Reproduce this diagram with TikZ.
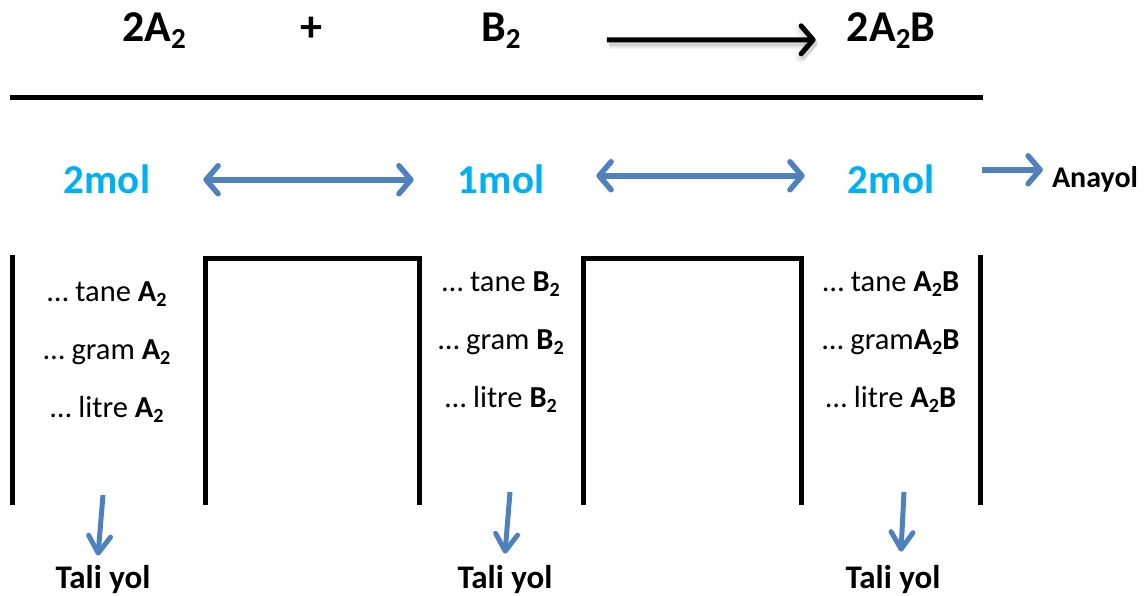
\documentclass[tikz,border=0pt]{standalone}
\usepackage{fontspec}
\usepackage{graphicx}
\setmainfont{Carlito}
\usetikzlibrary{arrows.meta}
\definecolor{molblue}{HTML}{00B0F0}
\definecolor{arrblue}{HTML}{4F81BD}
\newcommand\sbs[1]{\raisebox{-0.17em}{\scalebox{0.66}{#1}}}
\tikzset{
  formula/.style={anchor=base,inner sep=0pt,font=\fontsize{44}{48}\selectfont\bfseries},
  mol/.style={anchor=base,inner sep=0pt,text=molblue,font=\fontsize{41}{46}\selectfont\bfseries},
  item/.style={anchor=base,inner sep=0pt,font=\fontsize{30.5}{34}\selectfont},
  lbl/.style={anchor=base,inner sep=0pt,font=\fontsize{33}{36}\selectfont\bfseries},
  wall/.style={line width=5pt,black},
  dblarrow/.style={line width=5.5pt,arrblue,{Straight Barb[length=12pt,width=28pt,round]}-{Straight Barb[length=12pt,width=28pt,round]}},
  onearrow/.style={line width=5.5pt,arrblue,-{Straight Barb[length=12pt,width=28pt,round]}},
  downarrow/.style={line width=5pt,arrblue,-{Straight Barb[length=17pt,width=22pt,round]}},
  rxnarrow/.style={line width=5pt,black,-{Straight Barb[length=12pt,width=28pt,round]}},
}
\begin{document}
\begin{tikzpicture}[x=1pt,y=-1pt]
\useasboundingbox (0,0) rectangle (1148,595);
% top reaction row
\node[formula] (r1) at (154,41) {2A\sbs{2}};
\node[formula] (plus) at (311,41) {+};
\node[formula] (r2) at (501,41) {B\sbs{2}};
\node[formula] (p1) at (891,41) {2A\sbs{2}B};
\foreach \o/\w in {0.05/11pt,0.06/8pt,0.08/5pt}{
\draw[rxnarrow,black,line width=\w,opacity=\o,-{Straight Barb[length=12pt,width=28pt,round]}]
  ([xshift=88pt,yshift=-13pt]r2.east) -- ([xshift=-29pt,yshift=-13pt]p1.west);
}
\draw[rxnarrow] ([xshift=86pt,yshift=-9.5pt]r2.east) -- ([xshift=-31pt,yshift=-9.5pt]p1.west);
% rule
\coordinate (hl) at (10,97);
\coordinate (hr) at (983,97);
\draw[line width=5pt] (hl) -- (hr);
% mol row
\node[mol] (m1) at (107,193) {2mol};
\node[mol] (m2) at (501,193) {1mol};
\node[mol] (m3) at (891,193) {2mol};
\node[lbl,font=\fontsize{30}{33}\selectfont\bfseries] (an) at (1095,187) {Anayol};
\draw[dblarrow] ([xshift=53pt,yshift=-1pt]m1.east) -- ([xshift=-44pt,yshift=-1pt]m2.west);
\draw[dblarrow] ([xshift=52pt,yshift=3pt]m2.east) -- ([xshift=-43pt,yshift=3pt]m3.west);
\coordinate (as) at ([xshift=48pt,yshift=9pt]m3.east);
\draw[onearrow] (as) -- ([xshift=-9pt]an.west |- as);
% walls
\draw[wall] (12,505) -- (12,255);
\draw[wall] (205,505) -- (205,258) -- (419,258) -- (419,505);
\draw[wall] (583,505) -- (583,258) -- (801,258) -- (801,505);
\draw[wall] (980,505) -- (980,255);
% column texts
\node[item] (a1) at (107,301) {… tane \textbf{A\sbs{2}}};
\node[item] (a2) at (107,359) {… gram \textbf{A\sbs{2}}};
\node[item] (a3) at (107,417) {… litre \textbf{A\sbs{2}}};
\node[item] (b1) at (501,291) {… tane \textbf{B\sbs{2}}};
\node[item] (b2) at (501,349) {… gram \textbf{B\sbs{2}}};
\node[item] (b3) at (501,407) {… litre \textbf{B\sbs{2}}};
\node[item] (c1) at (891,291) {… tane \textbf{A\sbs{2}B}};
\node[item] (c2) at (891,349) {… gram\textbf{A\sbs{2}B}};
\node[item] (c3) at (891,407) {… litre \textbf{A\sbs{2}B}};
% bottom labels
\node[lbl] (t1) at (103,588) {Tali yol};
\node[lbl] (t2) at (505,588) {Tali yol};
\node[lbl] (t3) at (893,588) {Tali yol};
\coordinate (d1) at (103,495);
\coordinate (d2) at (510,492);
\coordinate (d3) at (904,492);
\draw[downarrow] (d1) -- ([xshift=-5pt,yshift=9pt]t1.north);
\draw[downarrow] (d2) -- ([xshift=0pt,yshift=11pt]t2.north);
\draw[downarrow] (d3) -- ([xshift=8pt,yshift=13pt]t3.north);
\end{tikzpicture}
\end{document}
